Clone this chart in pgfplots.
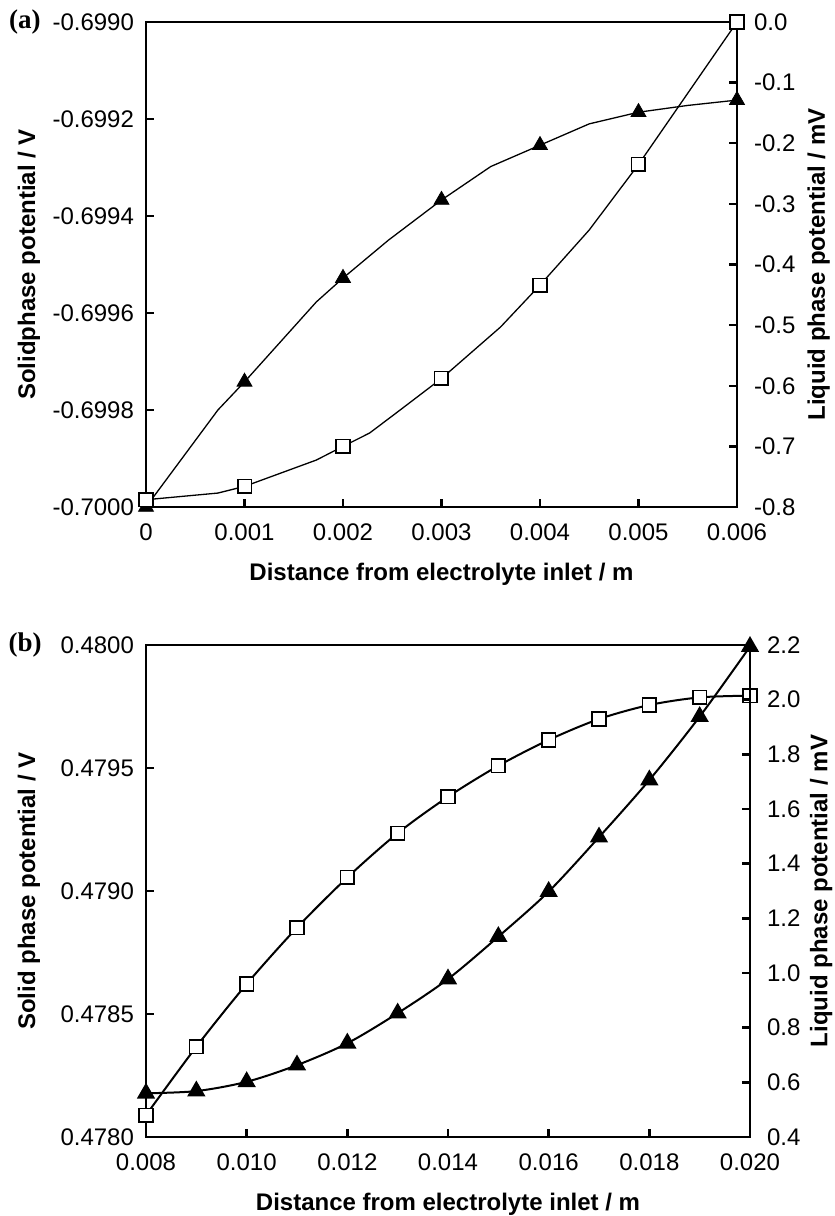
\documentclass[border=0pt]{standalone}
\usepackage{pgfplots}
\pgfplotsset{compat=1.18}
\usepackage{fontspec}
\setmainfont{Liberation Sans}
\newfontfamily\timesf{Liberation Serif}

\pgfplotsset{
  base/.style={
    scale only axis,
    scaled ticks=false,
    tick align=inside,
    major tick length=4pt,
    axis line style={line width=1.2pt},
    every tick/.style={line width=1.2pt, black},
    tick label style={font=\fontsize{12}{14}\selectfont},
    label style={font=\fontsize{12}{14}\selectfont\bfseries},
    /pgf/number format/assume math mode=true,
    clip=false,
  },
}

\begin{document}
\begin{tikzpicture}
\path[use as bounding box] (0,0) rectangle (417.5pt,-608pt);

% ---------------- panel (a) ----------------
\begin{axis}[base,
  at={(73pt,-253.5pt)}, anchor=south west,
  width=295.5pt, height=242.5pt,
  xmin=0, xmax=0.006, ymin=-0.7, ymax=-0.699,
  xtick={0,0.001,0.002,0.003,0.004,0.005,0.006},
  xticklabels={0,0.001,0.002,0.003,0.004,0.005,0.006},
  ytick={-0.7,-0.6998,-0.6996,-0.6994,-0.6992,-0.699},
  yticklabels={-0.7000,-0.6998,-0.6996,-0.6994,-0.6992,-0.6990},
  xtick pos=left, ytick pos=left,
  xticklabel style={yshift=-5pt},
  yticklabel style={xshift=-2.5pt},
  xlabel={Distance from electrolyte inlet / m},
  ylabel={Solidphase potential / V},
  xlabel style={at={(axis description cs:0.5,-0.138)}, anchor=center},
  ylabel style={at={(axis description cs:-0.198,0.5)}, anchor=center},
]
\addplot[black, line width=0.65pt, mark=none] table {
x y
0 -0.7000
0.00073 -0.69980
0.001 -0.699742
0.00173 -0.699577
0.002 -0.699528
0.00246 -0.699450
0.003 -0.699367
0.0035 -0.699298
0.004 -0.699254
0.0045 -0.699210
0.005 -0.699186
0.0055 -0.699172
0.006 -0.699161
};
\addplot[only marks, mark=triangle*, mark size=4.3pt, black, fill=black] table {
x y
0 -0.7000
0.001 -0.699742
0.002 -0.699528
0.003 -0.699367
0.004 -0.699254
0.005 -0.699186
0.006 -0.699161
};
\node at (axis description cs:-0.205,1) {\fontsize{13.5}{15}\selectfont\timesf\bfseries (a)};
\end{axis}

\begin{axis}[base,
  at={(73pt,-253.5pt)}, anchor=south west,
  width=295.5pt, height=242.5pt,
  xmin=0, xmax=0.006, ymin=-0.8, ymax=0,
  axis x line=none, axis y line*=right,
  ytick={-0.8,-0.7,-0.6,-0.5,-0.4,-0.3,-0.2,-0.1,0},
  yticklabels={-0.8,-0.7,-0.6,-0.5,-0.4,-0.3,-0.2,-0.1,0.0},
  yticklabel style={xshift=5pt},
  ylabel={Liquid phase potential / mV},
  ylabel style={at={(axis description cs:1.138,0.5)}, anchor=center, rotate=0},
]
\addplot[black, line width=0.65pt, mark=none] table {
x y
0 -0.788
0.00073 -0.777
0.001 -0.766
0.00173 -0.7225
0.002 -0.700
0.00227 -0.678
0.00258 -0.640
0.003 -0.588
0.0036 -0.503
0.004 -0.434
0.0045 -0.343
0.005 -0.235
0.006 0.0
};
\addplot[only marks, mark=square*, mark size=3.4pt, black, fill=white, line width=0.8pt] table {
x y
0 -0.788
0.001 -0.766
0.002 -0.700
0.003 -0.588
0.004 -0.434
0.005 -0.235
0.006 0.0
};
\end{axis}

% ---------------- panel (b) ----------------
\begin{axis}[base,
  at={(73pt,-568.5pt)}, anchor=south west,
  width=302pt, height=246pt,
  xmin=0.008, xmax=0.020, ymin=0.478, ymax=0.480,
  xtick={0.008,0.010,0.012,0.014,0.016,0.018,0.020},
  xticklabels={0.008,0.010,0.012,0.014,0.016,0.018,0.020},
  ytick={0.478,0.4785,0.479,0.4795,0.48},
  yticklabels={0.4780,0.4785,0.4790,0.4795,0.4800},
  xtick pos=left, ytick pos=left,
  xticklabel style={yshift=-5pt},
  yticklabel style={xshift=-2.5pt},
  xlabel={Distance from electrolyte inlet / m},
  ylabel={Solid phase potential / V},
  xlabel style={at={(axis description cs:0.5,-0.136)}, anchor=center},
  ylabel style={at={(axis description cs:-0.194,0.5)}, anchor=center},
]
\addplot[black, line width=1pt, smooth, tension=0.5, mark=square*, mark size=3.4pt,
  mark options={fill=white, line width=0.8pt}] table {
x y
0.008 0.478089
0.009 0.478367
0.010 0.478622
0.011 0.478851
0.012 0.479055
0.013 0.479235
0.014 0.479383
0.015 0.479509
0.016 0.479614
0.017 0.479699
0.018 0.479756
0.019 0.479787
0.020 0.479794
};
\node at (axis description cs:-0.2,1) {\fontsize{13.5}{15}\selectfont\timesf\bfseries (b)};
\end{axis}

\begin{axis}[base,
  at={(73pt,-568.5pt)}, anchor=south west,
  width=302pt, height=246pt,
  xmin=0.008, xmax=0.020, ymin=0.4, ymax=2.2,
  axis x line=none, axis y line*=right,
  ytick={0.4,0.6,0.8,1.0,1.2,1.4,1.6,1.8,2.0,2.2},
  yticklabels={0.4,0.6,0.8,1.0,1.2,1.4,1.6,1.8,2.0,2.2},
  yticklabel style={xshift=5pt},
  ylabel={Liquid phase potential / mV},
  ylabel style={at={(axis description cs:1.118,0.5)}, anchor=center, rotate=0},
]
\addplot[black, line width=1pt, smooth, tension=0.5, mark=triangle*, mark size=4.3pt,
  mark options={fill=black}] table {
x y
0.008 0.560
0.009 0.568
0.010 0.602
0.011 0.663
0.012 0.743
0.013 0.853
0.014 0.978
0.015 1.133
0.016 1.298
0.017 1.497
0.018 1.706
0.019 1.938
0.020 2.194
};
\end{axis}
\end{tikzpicture}
\end{document}
